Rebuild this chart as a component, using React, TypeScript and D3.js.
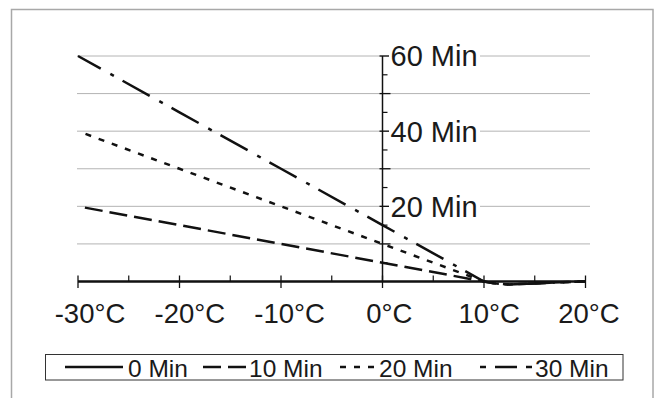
import React from "react";
import * as d3 from "d3";

const temps = [-30, -20, -10, 0, 10, 11, 12.5, 15, 17.5, 20];
const min0 = [0, 0, 0, 0, 0, 0, 0, 0, 0, 0];
const min10 = [20, 15, 10, 5, 0, -0.5, -0.8, -0.5, -0.2, 0];
const min20 = [40, 30, 20, 10, 0, -0.5, -0.8, -0.5, -0.2, 0];
const min30 = [60, 45, 30, 15, 0, -0.5, -0.8, -0.5, -0.2, 0];
const seriesNames = ["0 Min", "10 Min", "20 Min", "30 Min"];
const xTicks = [-30, -20, -10, 0, 10, 20];
const xTickLabels = ["-30°C", "-20°C", "-10°C", "0°C", "10°C", "20°C"];
const yGrid = [10, 20, 30, 40, 50, 60];
const yLabelValues = [20, 40, 60];
const yLabels = ["20 Min", "40 Min", "60 Min"];

const W = 658;
const H = 398;
const FONT = "'Liberation Sans', Arial, Helvetica, sans-serif";
const XFS = 27.5;

export default function App() {
  const x = d3.scaleLinear().domain([-30, 20]).range([78, 585.5]);
  // tick labels in the reference sit slightly right of their ticks
  const xLab = d3.scaleLinear().domain([-30, 20]).range([90, 589]);
  const y = d3.scaleLinear().domain([0, 60]).range([281.5, 56]);
  const x0 = x(0);
  const y0 = y(0);

  const seriesVals = [min0, min10, min20, min30];
  const styles = [
    { dash: "none", offset: 0, w: 2 },
    { dash: "18,7", offset: 18, w: 2.5 },
    { dash: "6,8", offset: 6, w: 2.5 },
    { dash: "31,11,4,10", offset: 5, w: 2.5 },
  ];

  const line = d3
    .line<[number, number]>()
    .x((d) => x(d[0]))
    .y((d) => y(d[1]));

  const minorX = d3.range(-25, 20, 10);
  const minorY = d3.range(5, 60, 10);

  const legendItems = [
    { sx0: 65, sx1: 123, tx: 128, dash: "none" },
    { sx0: 203, sx1: 246, tx: 249, dash: "18,7" },
    { sx0: 340, sx1: 376, tx: 379, dash: "6,8" },
    { sx0: 480, sx1: 532, tx: 535, dash: "6,9,22,9,6,40" },
  ];

  return (
    <svg
      width={W}
      height={H}
      style={{ position: "fixed", left: 0, top: 0, background: "#fff" }}
      fontFamily={FONT}
    >
      <rect x={0} y={0} width={W} height={H} fill="#fff" />
      <rect
        x={11.5}
        y={9.5}
        width={641.5}
        height={400}
        fill="none"
        stroke="#a8a8a8"
        strokeWidth={1.5}
      />
      {yGrid.map((v) => (
        <line
          key={"g" + v}
          x1={77}
          x2={590}
          y1={y(v)}
          y2={y(v)}
          stroke="#b4b4b4"
          strokeWidth={1}
        />
      ))}
      {seriesVals.map((vals, i) => {
        const pts = temps.map((t, j) => [t, vals[j]] as [number, number]);
        return (
          <path
            key={"s" + i}
            d={line(pts) || ""}
            fill="none"
            stroke="#111"
            strokeWidth={styles[i].w}
            strokeDasharray={styles[i].dash}
            strokeDashoffset={styles[i].offset}
          />
        );
      })}
      <line x1={x0} x2={x0} y1={y0} y2={y(60)} stroke="#111" strokeWidth={1.5} />
      {yGrid.map((v) => (
        <line
          key={"yt" + v}
          x1={x0 - 3}
          x2={x0 + 8}
          y1={y(v)}
          y2={y(v)}
          stroke="#111"
          strokeWidth={1.3}
        />
      ))}
      {minorY.map((v) => (
        <line
          key={"ym" + v}
          x1={x0}
          x2={x0 + 5}
          y1={y(v)}
          y2={y(v)}
          stroke="#111"
          strokeWidth={1.2}
        />
      ))}
      {yLabelValues.map((v, i) => (
        <g key={"yl" + v}>
          <rect x={389} y={y(v) - 12} width={91} height={24} fill="#fff" />
          <text x={390.5} y={y(v)} dy="0.36em" fontSize={29} fill="#1a1a1a">
            {yLabels[i]}
          </text>
        </g>
      ))}
      <line
        x1={x(-30)}
        x2={x(20)}
        y1={y0}
        y2={y0}
        stroke="#111"
        strokeWidth={2.2}
      />
      {xTicks.map((t) => (
        <line
          key={"xt" + t}
          x1={x(t)}
          x2={x(t)}
          y1={y0 - 6}
          y2={y0 + 6.5}
          stroke="#111"
          strokeWidth={1.3}
        />
      ))}
      {minorX.map((t) => (
        <line
          key={"xm" + t}
          x1={x(t)}
          x2={x(t)}
          y1={y0 - 6}
          y2={y0}
          stroke="#111"
          strokeWidth={1.2}
        />
      ))}
      {xTicks.map((t, i) => (
        <text
          key={"xl" + t}
          x={xLab(t)}
          y={323.3}
          textAnchor="middle"
          fontSize={XFS}
          fill="#1a1a1a"
        >
          {xTickLabels[i]}
        </text>
      ))}
      <rect
        x={45.5}
        y={354.5}
        width={577.5}
        height={25.5}
        fill="#fff"
        stroke="#333"
        strokeWidth={1}
      />
      {legendItems.map((it, i) => (
        <g key={"lg" + i}>
          <line
            x1={it.sx0}
            x2={it.sx1}
            y1={367}
            y2={367}
            stroke="#111"
            strokeWidth={2.4}
            strokeDasharray={it.dash}
          />
          <text x={it.tx} y={376.7} fontSize={24.5} fill="#1a1a1a">
            {seriesNames[i]}
          </text>
        </g>
      ))}
    </svg>
  );
}
